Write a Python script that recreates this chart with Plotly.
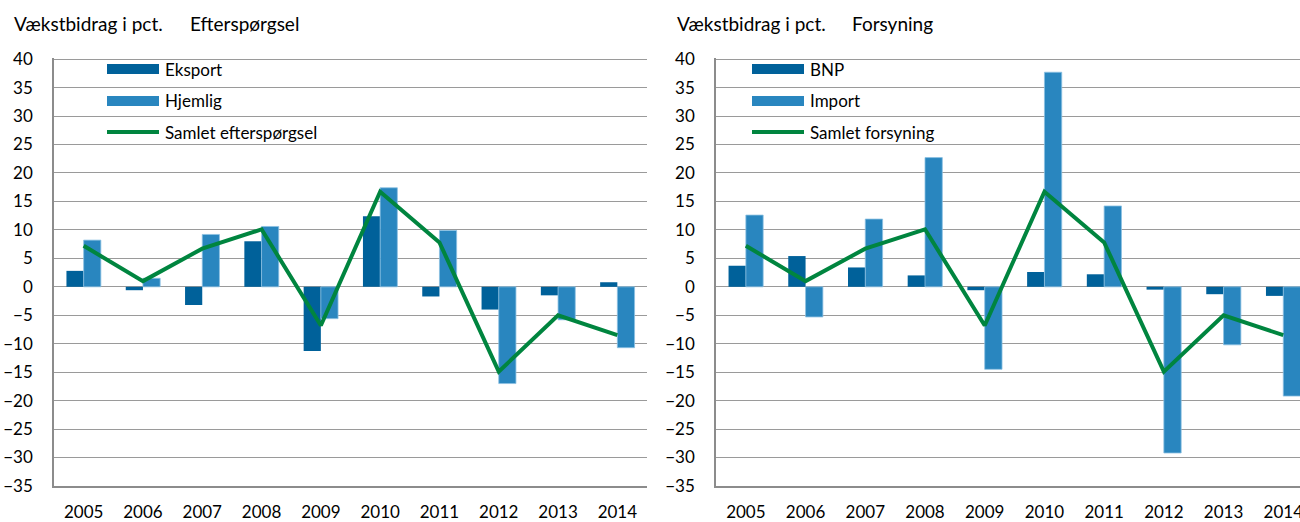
import plotly.graph_objects as go

years = ["2005", "2006", "2007", "2008", "2009", "2010", "2011", "2012", "2013", "2014"]
eksport = [2.8, -0.6, -3.2, 8.0, -11.3, 12.4, -1.7, -4.0, -1.5, 0.8]
hjemlig = [8.2, 1.5, 9.2, 10.6, -5.6, 17.4, 9.9, -17.0, -5.8, -10.7]
samlet_eft = [7.2, 1.0, 6.7, 10.1, -6.8, 16.7, 7.8, -14.9, -5.0, -8.5]
bnp = [3.7, 5.4, 3.4, 2.0, -0.6, 2.6, 2.2, -0.5, -1.3, -1.6]
imp = [12.6, -5.3, 11.9, 22.7, -14.5, 37.7, 14.2, -29.2, -10.2, -19.2]
samlet_fors = [7.2, 1.0, 6.7, 10.1, -6.8, 16.7, 7.8, -14.9, -5.0, -8.5]
yticks = list(range(-35, 45, 5))

DARK = "#00619a"
LIGHT = "#2986bf"
GREEN = "#00853f"
FONT = "Lato"
W, H = 1300, 522

fig = go.Figure()
fig.add_trace(go.Bar(x=years, y=eksport, name="Eksport", marker=dict(color=DARK, line=dict(width=0)),
                     xaxis="x", yaxis="y"))
fig.add_trace(go.Bar(x=years, y=hjemlig, name="Hjemlig", marker=dict(color=LIGHT, line=dict(width=0.8, color="#8cc0e2")),
                     xaxis="x", yaxis="y"))
fig.add_trace(go.Scatter(x=years, y=samlet_eft, name="Samlet efterspørgsel", mode="lines",
                         line=dict(color=GREEN, width=4), xaxis="x", yaxis="y"))
fig.add_trace(go.Bar(x=years, y=bnp, name="BNP", marker=dict(color=DARK, line=dict(width=0)),
                     xaxis="x2", yaxis="y2"))
fig.add_trace(go.Bar(x=years, y=imp, name="Import", marker=dict(color=LIGHT, line=dict(width=0.8, color="#8cc0e2")),
                     xaxis="x2", yaxis="y2"))
fig.add_trace(go.Scatter(x=years, y=samlet_fors, name="Samlet forsyning", mode="lines",
                         line=dict(color=GREEN, width=4), xaxis="x2", yaxis="y2"))

ydom = [(H - 486) / H, (H - 58) / H]
ax_common = dict(type="category", showgrid=False, showline=True, linecolor="#8c8c8c", linewidth=1.5,
                 ticks="", tickfont=dict(family=FONT, size=17, color="#000"), ticklabelstandoff=10,
                 automargin=False, fixedrange=True)
ay_common = dict(range=[-35, 40.2], tickvals=yticks, showgrid=True, gridcolor="#9a9a9a", gridwidth=1.4,
                 showline=True, linecolor="#8c8c8c", linewidth=1.5, zeroline=False, ticks="",
                 tickfont=dict(family=FONT, size=17, color="#000"), ticklabelstandoff=16,
                 automargin=False, fixedrange=True)

fig.update_layout(
    width=W, height=H, margin=dict(l=0, r=0, t=0, b=0, autoexpand=False),
    paper_bgcolor="white", plot_bgcolor="white", showlegend=False,
    barmode="group", bargap=0.42, bargroupgap=0,
    xaxis=dict(domain=[54 / W, 647 / W], range=[-0.5, 9.5], anchor="y", **ax_common),
    yaxis=dict(domain=ydom, anchor="x", **ay_common),
    xaxis2=dict(domain=[716 / W, 1.0], range=[-0.5, 9.28], anchor="y2", **ax_common),
    yaxis2=dict(domain=ydom, anchor="x2", **ay_common),
    font=dict(family=FONT, color="#000"),
)

def px(x):
    return x / W

def py(y):
    return 1 - y / H

shapes = []
annotations = []

# Titles
for x0, txt in [(12, "Vækstbidrag i pct."), (188, "Efterspørgsel"), (675, "Vækstbidrag i pct."), (850, "Forsyning")]:
    annotations.append(dict(x=px(x0), y=py(23), xref="paper", yref="paper", text=txt, showarrow=False,
                            xanchor="left", yanchor="middle", font=dict(family=FONT, size=19, color="#000")))

# Legends
legends = [
    (107, [("bar", DARK, "Eksport"), ("bar", LIGHT, "Hjemlig"), ("line", GREEN, "Samlet efterspørgsel")]),
    (752, [("bar", DARK, "BNP"), ("bar", LIGHT, "Import"), ("line", GREEN, "Samlet forsyning")]),
]
rows = [69, 101, 132]
for x0, items in legends:
    for (kind, col, label), yc in zip(items, rows):
        if kind == "bar":
            shapes.append(dict(type="rect", xref="paper", yref="paper", x0=px(x0), x1=px(x0 + 52),
                               y0=py(yc + 5), y1=py(yc - 5), fillcolor=col, line=dict(width=0)))
        else:
            shapes.append(dict(type="line", xref="paper", yref="paper", x0=px(x0), x1=px(x0 + 52),
                               y0=py(yc), y1=py(yc), line=dict(color=col, width=4)))
        annotations.append(dict(x=px(x0 + 56), y=py(yc), xref="paper", yref="paper", text=label,
                                showarrow=False, xanchor="left", yanchor="middle",
                                font=dict(family=FONT, size=17, color="#000")))

fig.update_layout(shapes=shapes, annotations=annotations)
fig.write_html("out.html", config={"displayModeBar": False, "responsive": False},
               post_script="document.body.style.margin='0';document.body.style.overflow='hidden';")
